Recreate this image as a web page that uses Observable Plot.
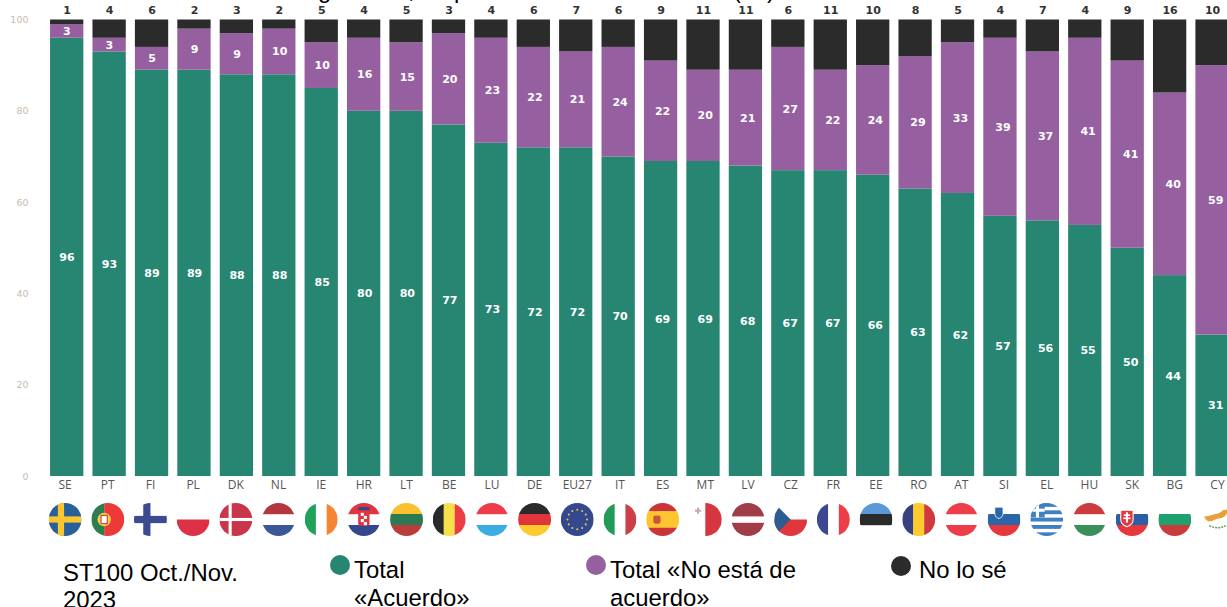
<!DOCTYPE html>
<html lang="es">
<head>
<meta charset="utf-8">
<script src="https://cdn.jsdelivr.net/npm/d3@7"></script>
<script src="https://cdn.jsdelivr.net/npm/@observablehq/plot@0.6"></script>
<style>
html,body{margin:0;padding:0;background:#fff;overflow:hidden;width:1227px;height:607px}
#stage{position:relative;width:1227px;height:607px;overflow:hidden}
#stage svg{position:absolute;left:0;top:0;background:transparent}
.t{position:absolute;font-family:"Liberation Sans",Arial,sans-serif;font-size:23.9px;line-height:27.5px;color:#000;margin:0}
.d{position:absolute;width:20px;height:20px;border-radius:50%;filter:blur(.6px)}
</style>
</head>
<body>
<div id="stage"></div>
<script>
const countries = ["SE","PT","FI","PL","DK","NL","IE","HR","LT","BE","LU","DE","EU27","IT","ES","MT","LV","CZ","FR","EE","RO","AT","SI","EL","HU","SK","BG","CY"];
const acuerdo   = [96,93,89,89,88,88,85,80,80,77,73,72,72,70,69,69,68,67,67,66,63,62,57,56,55,50,44,31];
const noAcuerdo = [3,3,5,9,9,10,10,16,15,20,23,22,21,24,22,20,21,27,22,24,29,33,39,37,41,41,40,59];
const noSe      = [1,4,6,2,3,2,5,4,5,3,4,6,7,6,9,11,11,6,11,10,8,5,4,7,4,9,16,10];
const yTicks = [0,20,40,60,80,100];
const seriesNames = ["Total «Acuerdo»","Total «No está de acuerdo»","No lo sé"];
const seriesColors = ["#268672","#9660a0","#2b2b2b"];

const rows = countries.flatMap((c,i)=>[
  {c,series:seriesNames[0],value:acuerdo[i]},
  {c,series:seriesNames[1],value:noAcuerdo[i]},
  {c,series:seriesNames[2],value:noSe[i]}
]);
const totals = countries.map((c,i)=>({c,value:noSe[i]}));

// flags as small inline SVGs on a 32 unit square
const hs=(cols,w)=>{const W=w||cols.map(()=>1),s=W.reduce((a,b)=>a+b,0);let y=0,o="";cols.forEach((k,i)=>{const h=32*W[i]/s;if(k)o+=`<rect y="${y}" width="32" height="${h+.2}" fill="${k}"/>`;y+=h});return o};
const vs=(cols,w)=>{const W=w||cols.map(()=>1),s=W.reduce((a,b)=>a+b,0);let x=0,o="";cols.forEach((k,i)=>{const h=32*W[i]/s;if(k)o+=`<rect x="${x}" width="${h+.2}" height="32" fill="${k}"/>`;x+=h});return o};
const cross=(bg,c,t)=>`<rect width="32" height="32" fill="${bg}"/><rect x="9" width="${t}" height="32" fill="${c}"/><rect y="${16-t/2}" width="32" height="${t}" fill="${c}"/>`;
const stars=[...Array(12).keys()].map(i=>`<circle cx="${16+9.5*Math.cos(i*Math.PI/6)}" cy="${16+9.5*Math.sin(i*Math.PI/6)}" r="1" fill="#e5c84a"/>`).join("");
const flagArt = {
  SE:cross("#2a6099","#fcc72e",6),
  PT:vs(["#2f7d4f","#ee3a36"],[2,3])+`<circle cx="12.5" cy="16" r="6.5" fill="#f3cf4a"/><rect x="9.5" y="12" width="6" height="8" fill="#fff" stroke="#c33" />`,
  FI:cross("#fff","#3d4a8f",7),
  PL:hs([null,"#dd3145"]),
  DK:cross("#c9354a","#fff",3),
  NL:hs(["#b5373e",null,"#3a5797"]),
  IE:vs(["#1fa35a",null,"#f58531"]),
  HR:hs(["#e0343f",null,"#33478f"])+`<rect x="10.5" y="7" width="11" height="15" rx="2" fill="#e0343f"/><rect x="13" y="9.5" width="3" height="3" fill="#fff"/><rect x="16" y="12.5" width="3" height="3" fill="#fff"/><rect x="13" y="15.5" width="3" height="3" fill="#fff"/><rect x="16" y="18.5" width="3" height="3" fill="#fff"/><rect x="10.5" y="4" width="11" height="3" fill="#33478f"/>`,
  LT:hs(["#fbc02d","#2c7a54","#bc3c3c"]),
  BE:vs(["#2a2a2a","#f8e04a","#ec3c44"]),
  LU:hs(["#ee3d4a",null,"#3aaee2"]),
  DE:hs(["#2a2a2a","#e0353a","#fdcb2e"]),
  EU27:`<rect width="32" height="32" fill="#34488f"/>`+stars,
  IT:vs(["#219b57",null,"#cc3f47"]),
  ES:hs(["#cc3538","#fdc52e","#cc3538"],[1,2,1])+`<rect x="7" y="12" width="7" height="8" rx="2" fill="#c9553a"/>`,
  MT:vs([null,"#d6363f"])+`<rect x="6" y="6.5" width="6" height="2" fill="#c9a8b0"/><rect x="8" y="4.5" width="2" height="6" fill="#c9a8b0"/>`,
  LV:hs(["#a03d48",null,"#a03d48"],[2,1,2]),
  CZ:hs([null,"#e0373c"])+`<path d="M0 0L16 16L0 32Z" fill="#2c5c90"/>`,
  FR:vs(["#3c4791",null,"#ee3d47"]),
  EE:hs(["#5b98d6","#2a2a2a",null]),
  RO:vs(["#36427f","#fdcb2e","#ce3a3e"]),
  AT:hs(["#ee3d4a",null,"#ee3d4a"]),
  SI:hs([null,"#2a66a8","#e8373c"])+`<path d="M7 4h8v6q0 4-4 5q-4-1-4-5z" fill="#2a66a8" stroke="#fff" stroke-width=".8"/>`,
  EL:hs(["#3f7fc4",null,"#3f7fc4",null,"#3f7fc4",null,"#3f7fc4",null,"#3f7fc4"])+`<rect width="14" height="14" fill="#3f7fc4"/><rect x="5.5" width="3" height="14" fill="#fff"/><rect y="5.5" width="14" height="3" fill="#fff"/>`,
  HU:hs(["#cc3b3e",null,"#3a8f5a"]),
  SK:hs([null,"#2a5fa8","#e8373c"])+`<path d="M5 7h12v9q0 5-6 7q-6-2-6-7z" fill="#e8373c" stroke="#fff" stroke-width="1"/><rect x="10" y="9" width="2" height="10" fill="#fff"/><rect x="8" y="11" width="6" height="1.6" fill="#fff"/><rect x="7.5" y="14" width="7" height="1.6" fill="#fff"/>`,
  BG:hs([null,"#1fa06f","#cc3b3b"]),
  CY:`<path d="M3 13q5 0 10-2q6-1 8-4q4 0 10-4l1 2q-6 3-8 7q-3 3-8 3q-5 3-9 3q-3-2-4-5z" fill="#e8a03a"/><path d="M8 22q8 4 16 0" fill="none" stroke="#6a9a5a" stroke-width="1.4" stroke-dasharray="2 1"/>`
};
const flags = countries.map(c=>({c,src:"data:image/svg+xml,"+encodeURIComponent(`<svg xmlns="http://www.w3.org/2000/svg" viewBox="0 0 32 32" width="32" height="32">${flagArt[c]}</svg>`)}));

const W=1227,H=607,marginTop=19.5,marginBottom=131;
const font='"DejaVu Sans",sans-serif';
const base={width:W,height:H,marginTop,marginBottom,marginLeft:28,marginRight:0,
  y:{domain:[0,100],axis:null},
  style:{background:"transparent",overflow:"hidden"}};
// band positions: first centre + step, unrounded
const xBand=(first,step,padding=.215)=>({type:"band",domain:countries,padding,align:.5,round:false,
  range:[first-step*(.5+padding/2),first-step*(.5+padding/2)+step*(countries.length+padding)],axis:null});

const bars=Plot.plot({...base,x:xBand(66.7,42.42),color:{domain:seriesNames,range:seriesColors},marks:[
  Plot.barY(rows,{x:"c",y:"value",fill:"series",order:seriesNames}),
  Plot.text(totals,{x:"c",y:()=>100,text:"value",dy:-10,fill:"#333",fontSize:11,fontWeight:700,fontFamily:font,lineAnchor:"middle"}),
  Plot.axisY({ticks:yTicks,tickSize:0,tickPadding:0,label:null,color:"#c8bcb0",fontSize:9.5,fontFamily:font,stroke:"none"})
]});
const inner=Plot.plot({...base,x:xBand(66.4,42.55),marks:[
  Plot.text(rows.filter(d=>d.series!==seriesNames[2]),Plot.stackY({x:"c",y:"value",z:"series",order:seriesNames,text:"value",fill:"#fff",fontSize:11,fontWeight:700,fontFamily:font,lineAnchor:"middle"}))
]});
const axis=Plot.plot({...base,x:xBand(64.6,42.68),marks:[
  Plot.text(countries,{x:d=>d,y:()=>0,text:d=>d,dy:9,fill:"#555",fontSize:12,fontFamily:'"Open Sans",sans-serif',lineAnchor:"middle"}),
  Plot.image(flags,{x:"c",y:()=>0,src:"src",r:16.5,dy:43})
]});
const stage=document.getElementById("stage");
stage.append(bars,inner,axis);

// legend, footnote and the clipped remains of the title, in page coordinates
const addText=(txt,left,top,width)=>{const p=document.createElement("p");p.className="t";p.textContent=txt;p.style.left=left+"px";p.style.top=top+"px";if(width)p.style.width=width+"px";stage.append(p)};
const addDot=(c,left,top)=>{const s=document.createElement("span");s.className="d";s.style.background=c;s.style.left=left+"px";s.style.top=top+"px";stage.append(s)};
addText("ST100 Oct./Nov. 2023",63,558.5,190);
addDot(seriesColors[0],330,555);addText("Total «Acuerdo»",354,556,125);
addDot(seriesColors[1],585.5,555);addText("Total «No está de acuerdo»",610,556,200);
addDot(seriesColors[2],891,556);addText("No lo sé",919,556);
[["g",318],[",",408],["p",454],["(",733],[")",767]].forEach(([g,x])=>addText(g,x,-24));
</script>
</body>
</html>
